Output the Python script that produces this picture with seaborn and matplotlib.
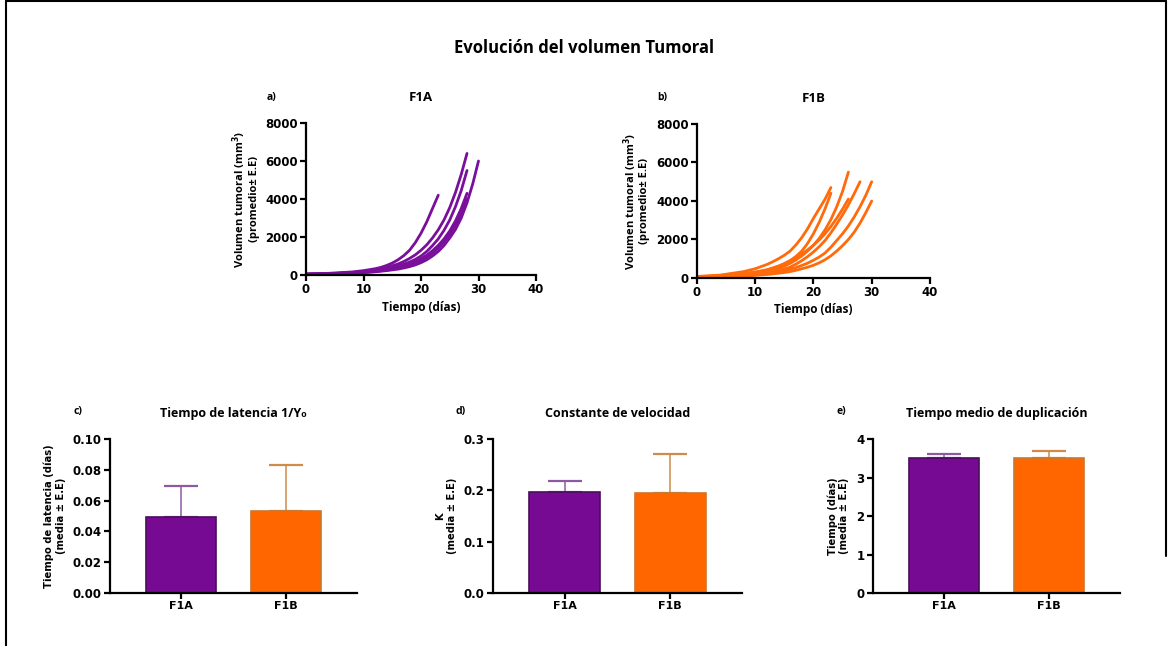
import numpy as np
import pandas as pd
import matplotlib
matplotlib.use("Agg")
import matplotlib.pyplot as plt
from matplotlib.lines import Line2D
import seaborn as sns

# ---- datos ----
# curvas de crecimiento tumoral F1A (dias, volumen mm3)
f1a_dias = [
    [0, 4, 8, 10, 12, 13, 14, 15, 16, 17, 18, 19, 20, 21, 22, 23],
    [0, 4, 8, 10, 12, 14, 16, 17, 18, 19, 20, 21, 22, 23, 24, 25, 26, 27, 28],
    [0, 4, 8, 10, 12, 14, 16, 17, 18, 19, 20, 21, 22, 23, 24, 25, 26, 27, 28],
    [0, 4, 8, 10, 12, 14, 16, 17, 18, 19, 20, 21, 22, 23, 24, 25, 26, 27, 28],
    [0, 4, 8, 10, 12, 14, 16, 17, 18, 19, 20, 21, 22, 23, 24, 25, 26, 27, 28],
    [0, 4, 8, 10, 12, 14, 16, 17, 18, 19, 20, 21, 22, 23, 24, 25, 26, 27, 28, 29, 30],
]
f1a_vol = [
    [50, 90, 160, 230, 330, 400, 500, 630, 800, 1020, 1300, 1700, 2200, 2800, 3500, 4200],
    [40, 70, 120, 180, 260, 390, 580, 710, 870, 1060, 1300, 1590, 1950, 2380, 2900, 3550, 4350, 5300, 6400],
    [40, 70, 120, 165, 230, 330, 470, 570, 680, 820, 1000, 1240, 1550, 1900, 2350, 2900, 3600, 4450, 5500],
    [40, 65, 110, 150, 200, 285, 400, 480, 580, 700, 850, 1040, 1280, 1560, 1900, 2320, 2850, 3500, 4300],
    [40, 60, 100, 135, 180, 255, 360, 430, 520, 630, 760, 940, 1150, 1410, 1750, 2150, 2650, 3250, 4000],
    [40, 60, 100, 130, 170, 230, 310, 370, 440, 530, 650, 800, 1000, 1240, 1550, 1950, 2400, 3000, 3800, 4800, 6000],
]
# curvas de crecimiento tumoral F1B
f1b_dias = [
    [0, 4, 8, 10, 12, 13, 14, 15, 16, 17, 18, 19, 20, 21, 22, 23],
    [0, 4, 8, 10, 12, 13, 14, 15, 16, 17, 18, 19, 20, 21, 22, 23],
    [0, 4, 8, 10, 12, 14, 15, 16, 17, 18, 19, 20, 21, 22, 23, 24, 25, 26],
    [0, 4, 8, 10, 12, 14, 15, 16, 17, 18, 19, 20, 21, 22, 23, 24, 25, 26],
    [0, 4, 8, 10, 12, 14, 16, 17, 18, 19, 20, 21, 22, 23, 24, 25, 26, 27, 28],
    [0, 4, 8, 10, 12, 14, 16, 17, 18, 19, 20, 21, 22, 23, 24, 25, 26, 27, 28, 29, 30],
    [0, 4, 8, 10, 12, 14, 16, 17, 18, 19, 20, 21, 22, 23, 24, 25, 26, 27, 28, 29, 30],
]
f1b_vol = [
    [80, 150, 330, 480, 700, 840, 1000, 1180, 1400, 1720, 2100, 2560, 3100, 3600, 4100, 4700],
    [60, 110, 200, 290, 420, 500, 600, 730, 900, 1120, 1400, 1800, 2300, 2900, 3600, 4400],
    [50, 90, 150, 220, 330, 500, 620, 760, 940, 1150, 1400, 1700, 2060, 2500, 3040, 3700, 4500, 5500],
    [60, 120, 230, 310, 420, 620, 750, 900, 1060, 1250, 1460, 1700, 1980, 2300, 2680, 3100, 3580, 4100],
    [50, 80, 140, 190, 270, 390, 560, 720, 900, 1110, 1350, 1630, 1950, 2350, 2800, 3280, 3800, 4380, 5000],
    [40, 70, 120, 165, 230, 320, 450, 540, 650, 770, 920, 1090, 1300, 1600, 1950, 2300, 2700, 3170, 3700, 4300, 5000],
    [40, 60, 100, 135, 180, 245, 330, 400, 480, 560, 660, 790, 950, 1150, 1400, 1680, 2000, 2380, 2850, 3400, 4000],
]

grupos = ["F1A", "F1B"]
latencia_media = [0.0495, 0.0535]
latencia_ee = [0.0200, 0.0295]
k_media = [0.196, 0.194]
k_ee = [0.023, 0.076]
duplic_media = [3.50, 3.52]
duplic_ee = [0.11, 0.17]

morado = "#760A93"
naranja = "#FF6600"
borde = ["#4A0D5C", "#C9782E"]
error_col = ["#8C5AA3", "#D08A4C"]

sns.set_style("ticks")
plt.rcParams["font.family"] = ["DejaVu Sans"]
plt.rcParams["font.weight"] = "bold"
plt.rcParams["text.color"] = "black"
plt.rcParams["axes.labelcolor"] = "black"
plt.rcParams["axes.linewidth"] = 1.6
plt.rcParams["xtick.major.width"] = 1.6
plt.rcParams["ytick.major.width"] = 1.6
plt.rcParams["xtick.major.size"] = 4
plt.rcParams["ytick.major.size"] = 4
plt.rcParams["axes.edgecolor"] = "black"
plt.rcParams["xtick.color"] = "black"
plt.rcParams["ytick.color"] = "black"

CAL = ["Open Sans", "DejaVu Sans"]

fig = plt.figure(figsize=(11.69, 6.46), dpi=100)


def tabla(dias, vols):
    filas = []
    for i, (d, v) in enumerate(zip(dias, vols)):
        for dd, vv in zip(d, v):
            filas.append({"dia": dd, "vol": vv, "raton": i})
    return pd.DataFrame(filas)


def panel_curvas(rect, dias, vols, color, titulo, letra):
    ax = fig.add_axes(rect)
    df = tabla(dias, vols)
    sns.lineplot(data=df, x="dia", y="vol", units="raton", estimator=None,
                 color=color, linewidth=2, ax=ax)
    ax.set_xlim(0, 40)
    ax.set_ylim(0, 8000)
    ax.set_xticks([0, 10, 20, 30, 40])
    ax.set_yticks([0, 2000, 4000, 6000, 8000])
    ax.tick_params(labelsize=8.5, pad=2)
    for t in ax.get_xticklabels() + ax.get_yticklabels():
        t.set_fontweight("bold")
    sns.despine(ax=ax)
    ax.set_xlabel("Tiempo (días)", family=CAL, fontsize=8.5, fontweight="bold", labelpad=3)
    ax.set_ylabel("Volumen tumoral (mm$^\\mathbf{3}$)\n(promedio± E.E)", family=CAL,
                  fontsize=8, fontweight="bold", labelpad=4, linespacing=1.1)
    ax.set_title(titulo, family=CAL, fontsize=9.5, fontweight="bold", pad=16)
    ax.text(-0.15, 1.17, letra, transform=ax.transAxes, family=CAL, fontsize=7.5,
            fontweight="bold", ha="center", va="center")
    return ax


def panel_barras(rect, medias, ees, titulo, letra, ylabel, ylim, yticks, fmt):
    ax = fig.add_axes(rect)
    sns.barplot(x=grupos, y=medias, hue=grupos, palette=[morado, naranja],
                saturation=1, width=0.67, legend=False, ax=ax)
    for p, ec in zip(ax.patches, borde):
        p.set_edgecolor(ec)
        p.set_linewidth(1.2)
    for i in range(len(grupos)):
        ax.errorbar(i, medias[i], yerr=[[0], [ees[i]]], fmt="none",
                    ecolor=error_col[i], elinewidth=1.1, capsize=12, capthick=1.6,
                    zorder=0)
    ax.set_xlim(-0.68, 1.68)
    ax.set_ylim(*ylim)
    ax.set_yticks(yticks)
    ax.set_yticklabels([fmt.format(v) for v in yticks])
    ax.tick_params(labelsize=8.5, pad=2)
    ax.tick_params(axis="x", labelsize=8)
    for t in ax.get_xticklabels() + ax.get_yticklabels():
        t.set_fontweight("bold")
    sns.despine(ax=ax)
    ax.set_ylabel(ylabel, fontsize=7.2, fontweight="bold", labelpad=5, linespacing=1.15)
    ax.set_title(titulo, family=CAL, fontsize=9, fontweight="bold", pad=16)
    ax.text(-0.13, 1.18, letra, transform=ax.transAxes, family=CAL, fontsize=7.5,
            fontweight="bold", ha="center", va="center")
    return ax


fig.suptitle("Evolución del volumen Tumoral", x=0.5, y=0.94, family=CAL,
             fontsize=12, fontweight="bold")

panel_curvas([0.2618, 0.5743, 0.1967, 0.2353], f1a_dias, f1a_vol, "#7A0F9C", "F1A", "a)")
panel_curvas([0.5962, 0.5697, 0.1993, 0.2384], f1b_dias, f1b_vol, "#FF6A0A", "F1B", "b)")

panel_barras([0.0941, 0.082, 0.2113, 0.2384], latencia_media, latencia_ee,
             "Tiempo de latencia 1/Y₀", "c)", "Tiempo de latencia (días)\n(media ± E.E)",
             (0, 0.10), [0, 0.02, 0.04, 0.06, 0.08, 0.10], "{:.2f}")
panel_barras([0.4217, 0.082, 0.2130, 0.2384], k_media, k_ee,
             "Constante de velocidad", "d)", "K\n(media ± E.E)",
             (0, 0.3), [0.0, 0.1, 0.2, 0.3], "{:.1f}")
panel_barras([0.7468, 0.082, 0.2113, 0.2384], duplic_media, duplic_ee,
             "Tiempo medio de duplicación", "e)", "Tiempo (días)\n(media ± E.E)",
             (0, 4), [0, 1, 2, 3, 4], "{:.0f}")

# marco de la figura
fig.add_artist(Line2D([0.005, 0.9975], [0.998, 0.998], color="black", lw=1.5))
fig.add_artist(Line2D([0.005, 0.005], [0.0, 0.998], color="black", lw=1.5))
fig.add_artist(Line2D([0.9975, 0.9975], [0.14, 0.998], color="black", lw=1.5))

fig.savefig("out.png", dpi=100)
